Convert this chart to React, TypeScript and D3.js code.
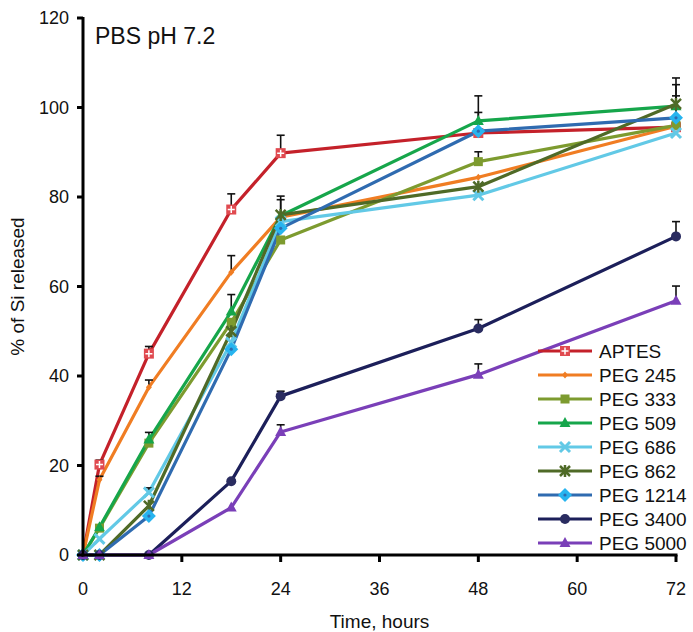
import React from "react";
import * as d3 from "d3";

const times = [0, 2, 8, 18, 24, 48, 72];
const seriesNames = ["APTES", "PEG 245", "PEG 333", "PEG 509", "PEG 686", "PEG 862", "PEG 1214", "PEG 3400", "PEG 5000"];
const aptes = [0, 20.2, 45, 77.2, 89.8, 94.3, 95.6];
const peg245 = [0, 16.8, 37.5, 63.2, 75.5, 84.4, 95.8];
const peg333 = [0, 6, 25, 52, 70.4, 87.9, 96];
const peg509 = [0, 6.2, 25.8, 54.4, 75.8, 97, 100.3];
const peg686 = [0, 3.6, 14, 47.5, 74.5, 80.4, 94.3];
const peg862 = [0, 0, 11, 50, 76, 82.3, 100.8];
const peg1214 = [0, 0, 8.7, 46, 73, 94.7, 97.7];
const peg3400 = [0, 0, 0, 16.5, 35.5, 50.6, 71.2];
const peg5000 = [0, 0, 0, 10.6, 27.5, 40.3, 56.8];
const errAptes = [0, 1, 1.6, 3.5, 4, 0, 0];
const err245 = [0, 0.8, 1.6, 3.7, 0, 0, 0];
const err333 = [0, 0, 0, 0, 0, 2.2, 0];
const err509 = [0, 0, 1.6, 3.8, 3.6, 5.6, 4.8];
const err686 = [0, 0, 1, 0, 0, 0, 0];
const err862 = [0, 0, 0, 2.2, 4.2, 0, 5.8];
const err1214 = [0, 0, 0, 0, 0, 4.2, 4.9];
const err3400 = [0, 0, 0, 0, 1.1, 2, 3.3];
const err5000 = [0, 0, 0, 0, 1.6, 2.4, 3.3];
const xTicks = [0, 12, 24, 36, 48, 60, 72];
const yTicks = [0, 20, 40, 60, 80, 100, 120];

const valuesList = [aptes, peg245, peg333, peg509, peg686, peg862, peg1214, peg3400, peg5000];
const errList = [errAptes, err245, err333, err509, err686, err862, err1214, err3400, err5000];
const styles = [
  { line: "#c4212a", fill: "#e04a50", marker: "squareCross" },
  { line: "#f07d23", fill: "#f07d23", marker: "dot" },
  { line: "#7d9b2f", fill: "#7d9b2f", marker: "square" },
  { line: "#16a64b", fill: "#16a64b", marker: "triangle" },
  { line: "#62c9e6", fill: "#62c9e6", marker: "x" },
  { line: "#4f6a27", fill: "#4f6a27", marker: "star" },
  { line: "#2f6bb0", fill: "#27b4ef", marker: "diamond" },
  { line: "#1c1f5a", fill: "#2a2c60", marker: "circle" },
  { line: "#7a3fb8", fill: "#7a3fb8", marker: "triangle" },
];

const FONT = "'Liberation Sans', Arial, sans-serif";

function Marker({ type, x, y, color, lineColor }: any) {
  switch (type) {
    case "squareCross":
      return (
        <g>
          <rect x={x - 5} y={y - 5} width={10} height={10} fill={color} />
          <path d={`M${x - 3.5},${y}H${x + 3.5}M${x},${y - 3.5}V${y + 3.5}`} stroke="#fff" strokeWidth={1.5} />
        </g>
      );
    case "dot":
      return <path d={`M${x},${y - 3.5}L${x + 3},${y}L${x},${y + 3.5}L${x - 3},${y}Z`} fill={color} />;
    case "square":
      return <rect x={x - 4.5} y={y - 4.5} width={9} height={9} fill={color} />;
    case "triangle":
      return <path d={`M${x},${y - 6}L${x + 5.5},${y + 4}L${x - 5.5},${y + 4}Z`} fill={color} />;
    case "x":
      return <path d={`M${x - 5},${y - 5}L${x + 5},${y + 5}M${x + 5},${y - 5}L${x - 5},${y + 5}`} stroke={color} strokeWidth={3} />;
    case "star":
      return (
        <path
          d={`M${x - 5},${y - 5}L${x + 5},${y + 5}M${x + 5},${y - 5}L${x - 5},${y + 5}M${x},${y - 6}V${y + 6}`}
          stroke={color}
          strokeWidth={2.5}
        />
      );
    case "diamond":
      return (
        <g>
          <path d={`M${x},${y - 7}L${x + 7},${y}L${x},${y + 7}L${x - 7},${y}Z`} fill={color} />
          <circle cx={x} cy={y} r={1.6} fill={lineColor} />
        </g>
      );
    case "circle":
      return <circle cx={x} cy={y} r={5} fill={color} />;
    default:
      return null;
  }
}

export default function App() {
  const width = 693;
  const height = 632;
  const x = d3.scaleLinear().domain([0, 72]).range([83, 676]);
  const y = d3.scaleLinear().domain([0, 120]).range([555, 18]);
  const line = d3
    .line<number>()
    .x((_, i) => x(times[i]))
    .y((d) => y(d));

  const legendX = 538;
  const legendY0 = 351;
  const legendStep = 24;

  return (
    <svg width={width} height={height} style={{ position: "absolute", left: 0, top: 0, background: "#fff" }}>
      <rect width={width} height={height} fill="#fff" />
      {valuesList.map((vals, si) => (
        <path key={"l" + si} d={line(vals) || ""} fill="none" stroke={styles[si].line} strokeWidth={3.2} strokeLinejoin="round" />
      ))}
      {valuesList.map((vals, si) =>
        vals.map((v, i) => {
          const e = errList[si][i];
          if (!e) return null;
          const cx = x(times[i]);
          return (
            <g key={"e" + si + "-" + i} stroke="#111" strokeWidth={1.6}>
              <line x1={cx} x2={cx} y1={y(v)} y2={y(v + e)} />
              <line x1={cx - 4} x2={cx + 4} y1={y(v + e)} y2={y(v + e)} />
            </g>
          );
        })
      )}
      {valuesList.map((vals, si) =>
        vals.map((v, i) => (
          <Marker key={"m" + si + "-" + i} type={styles[si].marker} x={x(times[i])} y={y(v)} color={styles[si].fill} lineColor={styles[si].line} />
        ))
      )}
      <line x1={x(0)} x2={x(0)} y1={y(120) - 1} y2={y(0) + 1.5} stroke="#000" strokeWidth={3} />
      <line x1={x(0) - 1.5} x2={x(72) + 1.5} y1={y(0)} y2={y(0)} stroke="#000" strokeWidth={3} />
      {yTicks.map((t) => (
        <g key={"yt" + t}>
          <line x1={x(0) - 6} x2={x(0)} y1={y(t)} y2={y(t)} stroke="#000" strokeWidth={3} />
          <text x={x(0) - 14} y={y(t)} dy="0.36em" textAnchor="end" fontSize={18} fontFamily={FONT} fill="#111">
            {t}
          </text>
        </g>
      ))}
      {xTicks.map((t) => (
        <g key={"xt" + t}>
          {t > 0 && <line x1={x(t)} x2={x(t)} y1={y(0)} y2={y(0) + 7} stroke="#000" strokeWidth={3} />}
          <text x={x(t)} y={595} textAnchor="middle" fontSize={18} fontFamily={FONT} fill="#111">
            {t}
          </text>
        </g>
      ))}
      <text x={x(36)} y={628} textAnchor="middle" fontSize={19} fontFamily={FONT} fill="#111">
        Time, hours
      </text>
      <text transform={`translate(24,${y(60)}) rotate(-90)`} textAnchor="middle" fontSize={19} fontFamily={FONT} fill="#111">
        % of Si released
      </text>
      <text x={95} y={44} fontSize={23} fontFamily={FONT} fill="#111">
        PBS pH 7.2
      </text>
      {seriesNames.map((name, si) => {
        const ly = legendY0 + si * legendStep;
        return (
          <g key={"lg" + si}>
            <line x1={legendX} x2={legendX + 54} y1={ly} y2={ly} stroke={styles[si].line} strokeWidth={3.2} />
            <Marker type={styles[si].marker} x={legendX + 27} y={ly} color={styles[si].fill} lineColor={styles[si].line} />
            <text x={legendX + 61} y={ly} dy="0.36em" fontSize={19} fontFamily={FONT} fill="#111">
              {name}
            </text>
          </g>
        );
      })}
    </svg>
  );
}
